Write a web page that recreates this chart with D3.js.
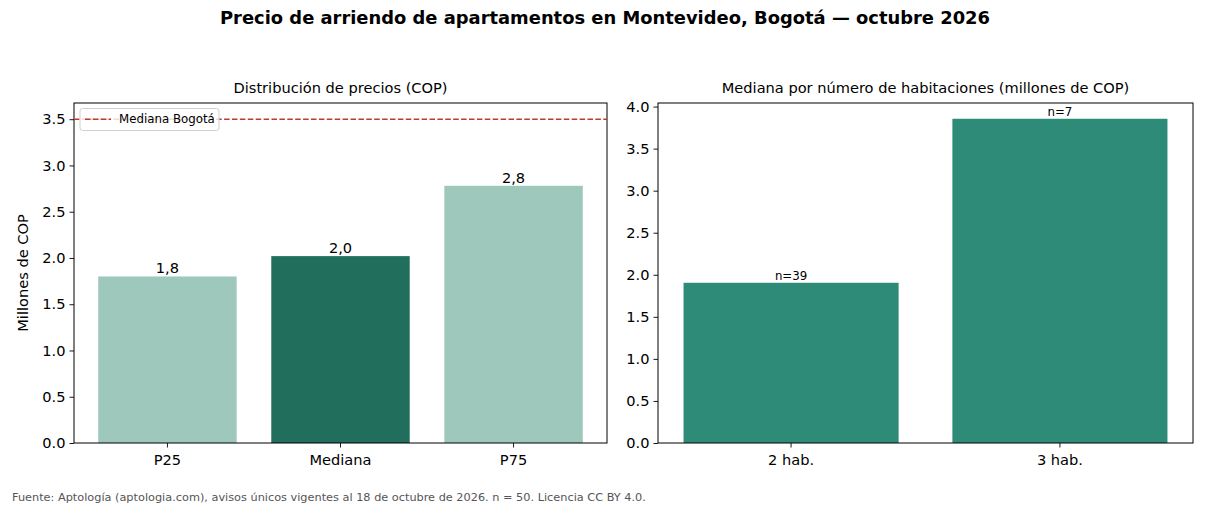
<!DOCTYPE html>
<html><head><meta charset="utf-8">
<script src="https://cdn.jsdelivr.net/npm/d3@7"></script>
<style>body{margin:0;background:#fff;font-family:"DejaVu Sans",sans-serif}</style>
</head><body>
<svg id="c" width="1210" height="506"></svg>
<script>
const leftCats = ["P25","Mediana","P75"];
const leftVals = [1.80, 2.02, 2.78];
const leftLabels = ["1,8","2,0","2,8"];
const leftColors = ["#9ec8bb","#216e5d","#9ec8bb"];
const refValue = 3.5;
const refLabel = "Mediana Bogotá";
const leftTicks = [0,0.5,1.0,1.5,2.0,2.5,3.0,3.5];
const rightCats = ["2 hab.","3 hab."];
const rightVals = [1.905, 3.855];
const rightLabels = ["n=39","n=7"];
const rightTicks = [0,0.5,1.0,1.5,2.0,2.5,3.0,3.5,4.0];

const svg = d3.select("#c");
const F = "DejaVu Sans, sans-serif";
svg.append("rect").attr("width",1210).attr("height",506).attr("fill","#fff");

svg.append("text").attr("x",605).attr("y",24).attr("text-anchor","middle")
  .attr("font-family",F).attr("font-size",17.9).attr("font-weight","bold")
  .text("Precio de arriendo de apartamentos en Montevideo, Bogotá — octubre 2026");

function panel(x0,x1,y0,y1,cats,vals,labels,colors,ticks,ymax,pOuter,title,labelSize){
  const g = svg.append("g");
  const x = d3.scaleBand().domain(cats).range([x0,x1]).paddingInner(0.2).paddingOuter(pOuter);
  const y = d3.scaleLinear().domain([0,ymax]).range([y1,y0]);
  g.selectAll("rect.bar").data(vals).enter().append("rect")
    .attr("x",(d,i)=>x(cats[i])).attr("width",x.bandwidth())
    .attr("y",d=>y(d)).attr("height",d=>y1-y(d))
    .attr("fill",(d,i)=>colors[i]);
  g.selectAll("text.bl").data(vals).enter().append("text")
    .attr("x",(d,i)=>x(cats[i])+x.bandwidth()/2).attr("y",d=>y(d)-3)
    .attr("text-anchor","middle").attr("font-family",F).attr("font-size",labelSize)
    .text((d,i)=>labels[i]);
  const ya = g.append("g").attr("transform",`translate(${x0},0)`)
    .call(d3.axisLeft(y).tickValues(ticks).tickFormat(d3.format(".1f")).tickSizeOuter(0).tickSize(4.5).tickPadding(4));
  const xa = g.append("g").attr("transform",`translate(0,${y1})`)
    .call(d3.axisBottom(x).tickSizeOuter(0).tickSize(4.5).tickPadding(7));
  [ya,xa].forEach(a=>{a.select(".domain").remove();a.selectAll("line").attr("stroke","#000").attr("stroke-width",0.9);
    a.selectAll("text").attr("font-family",F).attr("font-size",14.6).attr("fill","#000");});
  g.append("rect").attr("x",x0).attr("y",y0).attr("width",x1-x0).attr("height",y1-y0)
    .attr("fill","none").attr("stroke","#000").attr("stroke-width",1);
  g.append("text").attr("x",(x0+x1)/2).attr("y",y0-10).attr("text-anchor","middle")
    .attr("font-family",F).attr("font-size",14.6).text(title);
  return {g,x,y};
}

const L = panel(74,607,103,443,leftCats,leftVals,leftLabels,leftColors,leftTicks,refValue*1.05,0.14,"Distribución de precios (COP)",14.6);
// reference line
L.g.append("line").attr("x1",74).attr("x2",607).attr("y1",L.y(refValue)).attr("y2",L.y(refValue))
  .attr("stroke","#c0392b").attr("stroke-width",1.5).attr("stroke-dasharray","5.5,2.4");
// legend
const lg = L.g.append("g");
lg.append("rect").attr("x",80).attr("y",108.5).attr("width",139).attr("height",22).attr("rx",2.5)
  .attr("fill","#fff").attr("fill-opacity",0.8).attr("stroke","#d0d0d0").attr("stroke-width",1);
lg.append("line").attr("x1",85).attr("x2",111).attr("y1",L.y(refValue)).attr("y2",L.y(refValue))
  .attr("stroke","#c0392b").attr("stroke-width",1.5).attr("stroke-dasharray","5.5,2.4");
lg.append("text").attr("x",119).attr("y",L.y(refValue)+4).attr("font-family",F).attr("font-size",11.8).text(refLabel);
// y label
svg.append("text").attr("transform","translate(28,273) rotate(-90)").attr("text-anchor","middle")
  .attr("font-family",F).attr("font-size",14.6).text("Millones de COP");

panel(658,1193,103,443,rightCats,rightVals,rightLabels,["#2e8b77","#2e8b77"],rightTicks,3.85*1.05,0.095,"Mediana por número de habitaciones (millones de COP)",11.8);

svg.append("text").attr("x",12).attr("y",501).attr("font-family",F).attr("font-size",11.3).attr("fill","#555")
  .text("Fuente: Aptología (aptologia.com), avisos únicos vigentes al 18 de octubre de 2026. n = 50. Licencia CC BY 4.0.");
</script>
</body></html>
